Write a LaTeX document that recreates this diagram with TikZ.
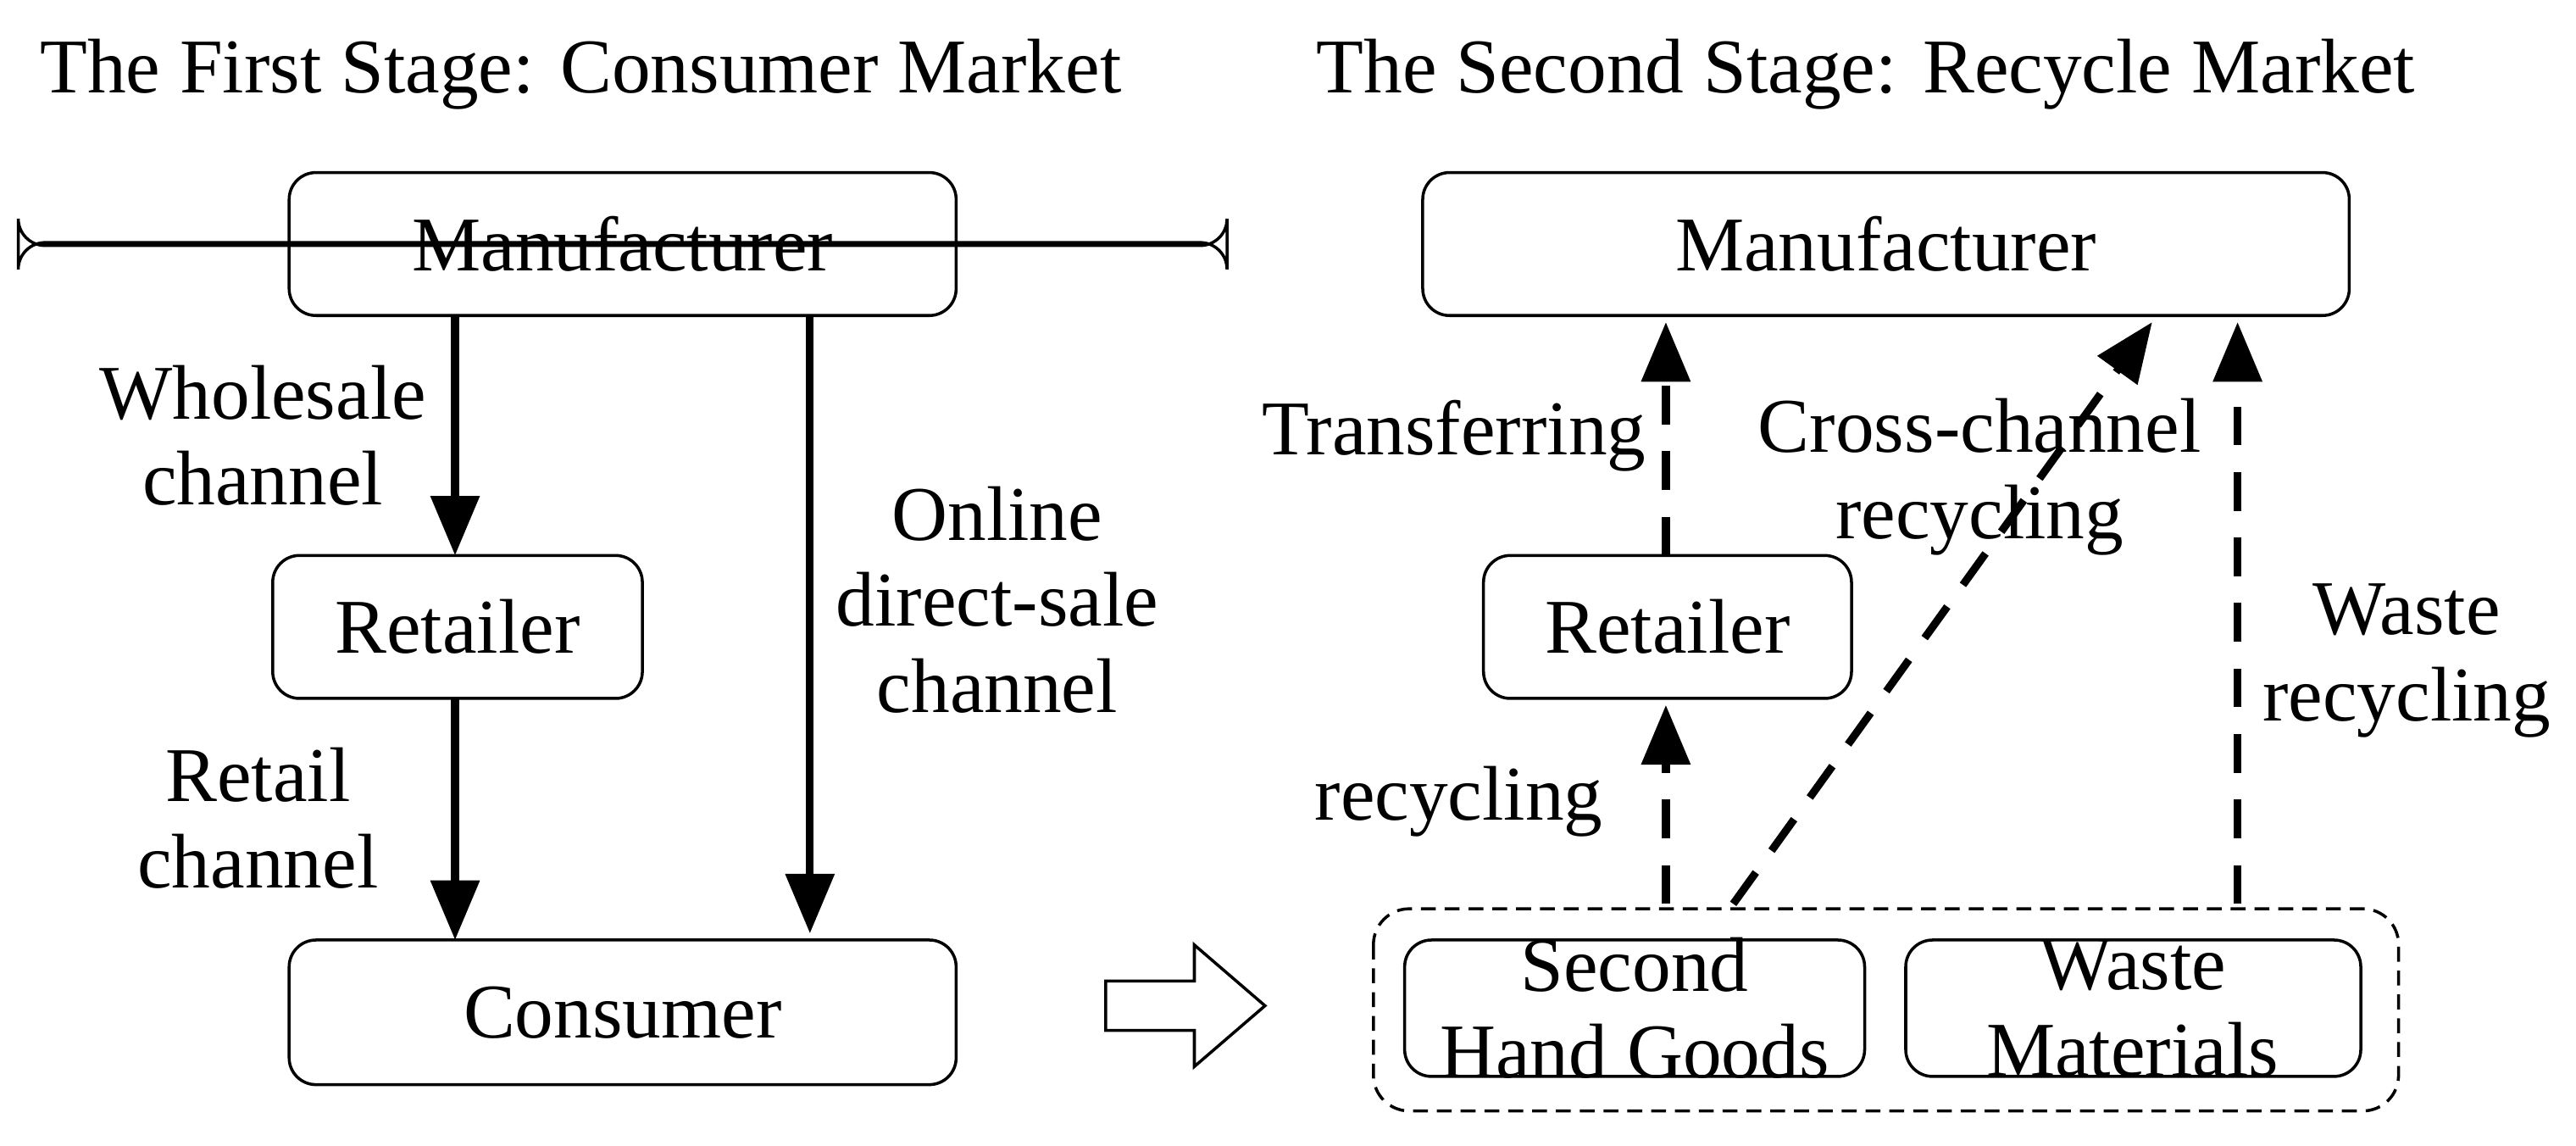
\documentclass[tikz,border=0pt]{standalone}
\usepackage{fontspec}
\setmainfont{Liberation Serif}
\usetikzlibrary{arrows.meta}
\begin{document}
\begin{tikzpicture}[x=0.01939cm,y=-0.01939cm,
  box/.style={draw,line width=1pt,rounded corners=9pt,inner sep=0pt},
  lab/.style={align=center,font=\fontsize{26}{29}\selectfont},
  sol/.style={line width=2.6pt,-{Triangle[length=20pt,width=16pt]}},
  dsh/.style={line width=2.6pt,dash pattern=on 13pt off 9pt,-{Triangle[length=20pt,width=16pt]}}]
\useasboundingbox (0,0) rectangle (1568,697);
\node[lab,anchor=west] (t1) at (18,45) {The First Stage: Consumer Market};
\node[lab,anchor=west] (t2) at (795,45) {The Second Stage: Recycle Market};
% left
\node[box,minimum width=406\pgflinewidth,lab] (lm) at (379,148.5) {};
\path (176,105) coordinate (a1) (582,192) coordinate (a2);
\draw[box] (176,105) rectangle (582,192);
\node[lab] (lmt) at (379,148.5) {Manufacturer};
\draw[box] (166,338) rectangle (391,425);
\node[lab] (lr) at (278.5,381.5) {Retailer};
\draw[box] (176,572) rectangle (582,660);
\node[lab] (lc) at (379,616) {Consumer};
\coordinate (m1) at (277,192); \coordinate (r1) at (277,338);
\coordinate (r2) at (277,425); \coordinate (c1) at (277,572);
\coordinate (m2) at (493,192); \coordinate (c2) at (493,568);
\draw[sol] (m1) -- (r1);
\draw[sol] (r2) -- (c1);
\draw[sol] (m2) -- (c2);
\node[lab] (w) at (160,265) {Wholesale\\channel};
\node[lab] (rc) at (157,498) {Retail\\channel};
\node[lab] (od) at (607,365) {Online\\direct-sale\\channel};
% hollow arrow
\draw[line width=1pt] (673,597) -- (727,597) -- (727,575) -- (770,612) -- (727,649) -- (727,627) -- (673,627) -- cycle;
\coordinate (ha) at (720,612);
% right
\draw[box] (866,105) rectangle (1430,192);
\node[lab] (rm) at (1148,148.5) {Manufacturer};
\draw[box] (903,338) rectangle (1127,425);
\node[lab] (rr) at (1015,381.5) {Retailer};
\draw[line width=1pt,dash pattern=on 5pt off 3pt,rounded corners=12pt] (836,553) rectangle (1460,676);
\draw[box] (855,572) rectangle (1135,655);
\node[lab] (sh) at (995,613.5) {Second\\Hand Goods};
\draw[box] (1160,572) rectangle (1437,655);
\node[lab] (wm) at (1298,613.5) {Waste\\Materials};
\coordinate (p1) at (1014,338); \coordinate (q1) at (1014,196);
\coordinate (p2) at (1014,550); \coordinate (q2) at (1014,429);
\coordinate (p3) at (1055,550); \coordinate (q3) at (1310,196);
\coordinate (p4) at (1362,550); \coordinate (q4) at (1362,196);
\draw[dsh] (p1) -- (q1);
\draw[dsh] (p2) -- (q2);
\draw[dsh] (p3) -- (q3);
\draw[dsh] (p4) -- (q4);
\node[lab] (tr) at (885,265) {Transferring};
\node[lab] (re) at (888,488) {recycling};
\node[lab] (cc) at (1205,290) {Cross-channel\\recycling};
\node[lab] (wr) at (1465,402) {Waste\\recycling};
\end{tikzpicture}
\end{document}
